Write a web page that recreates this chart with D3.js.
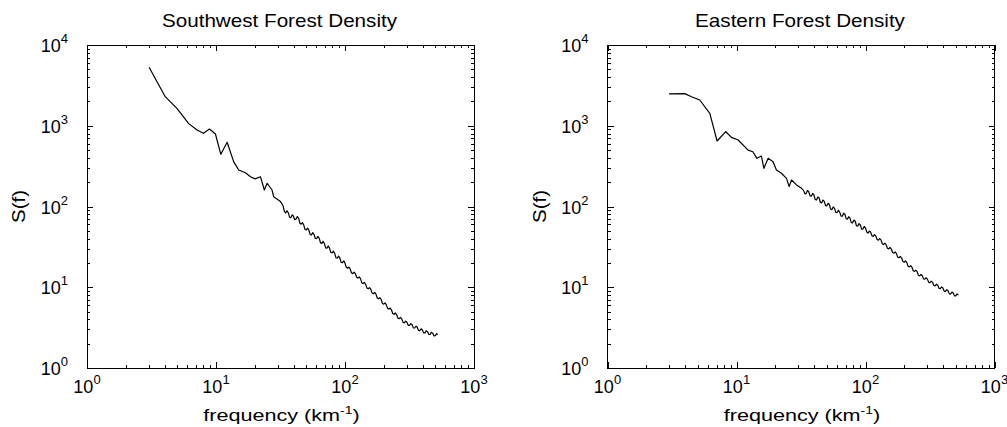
<!DOCTYPE html>
<html lang="en">
<head>
<meta charset="utf-8">
<title>Forest Density Spectra</title>
<script src="https://d3js.org/d3.v7.min.js"></script>
<style>
  body { margin: 0; background: #fff; }
  svg { display: block; font-family: "Liberation Sans", Arial, Helvetica, sans-serif; }
</style>
</head>
<body>
<div id="chart"></div>
<script>
// ---- data ----
const panelTitles = ["Southwest Forest Density", "Eastern Forest Density"];
const xTickExps = [0, 1, 2, 3];
const yTickExps = [0, 1, 2, 3, 4];

// shared high-frequency grid of the noisy tails
const tailFreq = [33.1, 33.9, 34.7, 35.5, 36.3, 37.2, 38.0, 38.9, 39.8, 40.7, 41.7, 42.7, 43.7, 44.7,
  45.7, 46.8, 47.9, 49.0, 50.1, 51.3, 52.5, 53.7, 55.0, 56.2, 57.5, 58.9, 60.3, 61.7, 63.1, 64.6,
  66.1, 67.6, 69.2, 70.8, 72.4, 74.1, 75.9, 77.6, 79.4, 81.3, 83.2, 85.1, 87.1, 89.1, 91.2, 93.3,
  95.5, 97.7, 100, 102.3, 104.7, 107.2, 109.6, 112.2, 114.8, 117.5, 120.2, 123.0, 125.9, 128.8,
  131.8, 134.9, 138.0, 141.3, 144.5, 147.9, 151.4, 154.9, 158.5, 162.2, 166.0, 169.8, 173.8, 177.8,
  182.0, 186.2, 190.5, 195.0, 199.5, 204.2, 208.9, 213.8, 218.8, 223.9, 229.1, 234.4, 239.9, 245.5,
  251.2, 257.0, 263.0, 269.2, 275.4, 281.8, 288.4, 295.1, 302.0, 309.0, 316.2, 323.6, 331.1, 338.8,
  346.7, 354.8, 363.1, 371.5, 380.2, 389.0, 398.1, 407.4, 416.9, 426.6, 436.5, 446.7, 457.1, 467.7,
  478.6, 489.8, 501.2, 512.9, 524.8];

const swFreq = [3.03, 4.04, 4.98, 6.12, 7.12, 8.0, 8.9, 9.9, 10.9, 12.2, 13.7, 15.0, 16.9, 18.5, 20.1,
  22.1, 23.7, 24.9, 27.2, 28.0, 31.6].concat(tailFreq);
const swPower = [5300, 2290, 1640, 1070, 885, 806, 911, 790, 443, 624, 359, 283, 262, 234, 220,
  234, 160, 194, 160, 132, 115,
  102, 87.0, 83.2, 88.6, 84.1, 73.7, 72.4, 78.7, 76.2, 68.8,
  69.8, 74.9, 71.6, 62.0, 60.3, 63.1, 58.9, 51.9, 51.3, 54.1,
  50.8, 44.9, 44.5, 47.5, 45.2, 40.2, 40.1, 42.6, 40.4, 35.5,
  35.0, 37.0, 34.8, 30.8, 30.5, 32.3, 30.5, 26.9, 26.6, 28.0,
  26.3, 23.2, 22.9, 24.3, 23.0, 20.3, 20.2, 21.2, 19.9, 17.7,
  17.2, 17.8, 16.9, 15.1, 14.7, 15.4, 14.8, 13.3, 13.0, 13.4,
  12.8, 11.4, 11.1, 11.5, 10.9, 9.79, 9.57, 9.91, 9.46, 8.51,
  8.32, 8.62, 8.22, 7.37, 7.19, 7.42, 7.06, 6.33, 6.17, 6.39,
  6.10, 5.48, 5.36, 5.53, 5.26, 4.73, 4.62, 4.80, 4.59, 4.15,
  4.08, 4.24, 4.06, 3.68, 3.62, 3.81, 3.69, 3.38, 3.37, 3.54,
  3.43, 3.14, 3.13, 3.29, 3.19, 2.92, 2.91, 3.06, 2.96, 2.72,
  2.72, 2.89, 2.82, 2.60, 2.61, 2.77, 2.70, 2.50, 2.51, 2.66, 2.60];

const eaFreq = [3.0, 3.97, 4.48, 5.19, 6.21, 7.07, 8.26, 9.15, 10.3, 12.3, 13.4, 14.4, 15.6, 16.3,
  17.6, 19.2, 20.4, 22.3, 24.4, 25.6, 26.7, 29.2, 31.9].concat(tailFreq);
const eaPower = [2475, 2500, 2290, 2084, 1426, 647, 844, 719, 666, 500, 477, 395, 422, 297,
  395, 359, 283, 258, 223, 176, 213, 185, 168,
  158.5, 143.4, 145.6, 157.6, 152.1, 134.8, 134.0, 145.1, 140.0, 122.5,
  120.2, 131.0, 127.4, 112.1, 110.7, 120.0, 115.9, 102.6, 101.9, 109.7,
  105.4, 92.8, 91.6, 98.7, 94.8, 84.4, 84.3, 89.7, 85.1, 75.9,
  75.9, 82.6, 80.2, 70.6, 69.8, 74.7, 71.3, 63.2, 62.8, 68.0,
  65.6, 57.8, 57.1, 61.5, 59.0, 52.5, 52.5, 56.5, 54.2, 48.4,
  46.9, 49.5, 48.2, 43.5, 42.7, 44.8, 43.3, 39.1, 38.3, 40.1,
  38.6, 34.6, 33.8, 35.2, 33.7, 30.4, 29.9, 31.1, 29.7, 26.9,
  26.4, 27.4, 26.1, 23.6, 23.2, 24.1, 23.0, 20.8, 20.4, 21.2,
  20.2, 18.2, 17.9, 18.5, 17.7, 16.0, 15.7, 16.3, 15.6, 14.1,
  13.8, 14.4, 13.9, 12.7, 12.6, 13.1, 12.6, 11.5, 11.4, 11.9,
  11.5, 10.5, 10.4, 10.9, 10.6, 9.70, 9.64, 10.1, 9.79, 8.95,
  8.89, 9.34, 9.04, 8.28, 8.24, 8.71, 8.49, 7.82, 7.83, 8.27, 8.04];

// ---- layout ----
const width = 1007;
const height = 427;
const plotTop = 45;
const plotBottom = 368;
const plotW = 387;
const majorLen = 6;
const minorLen = 3;

const panels = [
  { title: panelTitles[0], freq: swFreq, power: swPower, left: 87 },
  { title: panelTitles[1], freq: eaFreq, power: eaPower, left: 607.5 }
];

const svg = d3.select("#chart")
  .append("svg")
  .attr("width", width)
  .attr("height", height);

const isMajor = v => Math.abs(Math.log10(v) - Math.round(Math.log10(v))) < 1e-9;

function drawPanel(p) {
  const x = d3.scaleLog().domain([1, 1000]).range([p.left, p.left + plotW]);
  const y = d3.scaleLog().domain([1, 10000]).range([plotBottom, plotTop]);
  const g = svg.append("g");

  const xMajor = x.ticks().filter(isMajor);
  const xMinor = x.ticks().filter(v => !isMajor(v));
  const yMajor = y.ticks().filter(isMajor);
  const yMinor = y.ticks().filter(v => !isMajor(v));

  // inward ticks on all four sides
  const sides = [
    [() => d3.axisBottom(x), `translate(0,${plotBottom})`, xMajor, xMinor],
    [() => d3.axisTop(x), `translate(0,${plotTop})`, xMajor, xMinor],
    [() => d3.axisLeft(y), `translate(${p.left},0)`, yMajor, yMinor],
    [() => d3.axisRight(y), `translate(${p.left + plotW},0)`, yMajor, yMinor]
  ];
  sides.forEach(([make, tr, majors, minors]) => {
    [[majors, majorLen], [minors, minorLen]].forEach(([vals, len]) => {
      g.append("g")
        .attr("transform", tr)
        .style("color", "#000")
        .attr("shape-rendering", "crispEdges")
        .call(make().tickValues(vals).tickSize(-len).tickFormat(""))
        .call(a => a.select(".domain").remove())
        .call(a => a.selectAll("text").remove());
    });
  });

  // frame
  g.append("rect")
    .attr("x", x(1))
    .attr("y", y(10000))
    .attr("width", x(1000) - x(1))
    .attr("height", y(1) - y(10000))
    .attr("fill", "none")
    .attr("stroke", "#000")
    .attr("stroke-width", 1)
    .attr("shape-rendering", "crispEdges");

  // spectrum
  const line = d3.line()
    .x(d => x(d[0]))
    .y(d => y(d[1]));
  g.append("path")
    .datum(d3.zip(p.freq, p.power))
    .attr("d", line)
    .attr("fill", "none")
    .attr("stroke", "#000")
    .attr("stroke-width", 1.2)
    .attr("stroke-linejoin", "round");

  // x tick labels
  g.selectAll(".xlab")
    .data(xTickExps)
    .join("text")
    .attr("class", "xlab")
    .attr("x", e => x(Math.pow(10, e)))
    .attr("y", plotBottom + 25)
    .attr("text-anchor", "middle")
    .attr("font-size", 18)
    .each(function (e) {
      const t = d3.select(this);
      t.append("tspan").text("10");
      t.append("tspan").attr("font-size", 13).attr("dy", -9).text(e);
    });

  // y tick labels
  g.selectAll(".ylab")
    .data(yTickExps)
    .join("text")
    .attr("class", "ylab")
    .attr("x", p.left - 19)
    .attr("y", e => y(Math.pow(10, e)) + 7)
    .attr("text-anchor", "end")
    .attr("font-size", 18)
    .each(function (e) {
      const t = d3.select(this);
      t.append("tspan").text("10");
      t.append("tspan").attr("font-size", 13).attr("dy", -9).text(e);
    });

  const cx = p.left + plotW / 2;

  // title
  g.append("text")
    .attr("transform", `translate(${cx - 1},27) scale(1.18,1)`)
    .attr("text-anchor", "middle")
    .attr("font-size", 17.5)
    .text(p.title);

  // x axis title
  const xt = g.append("text")
    .attr("transform", `translate(${cx + 1},421) scale(1.27,1)`)
    .attr("text-anchor", "middle")
    .attr("font-size", 17);
  xt.append("tspan").text("frequency (km");
  xt.append("tspan").attr("font-size", 11).attr("dy", -7).text("-1");
  xt.append("tspan").attr("dy", 7).text(")");

  // y axis title
  g.append("text")
    .attr("transform", `translate(${p.left - 62},${(plotTop + plotBottom) / 2}) rotate(-90) scale(1.14,1)`)
    .attr("text-anchor", "middle")
    .attr("font-size", 18)
    .text("S(f)");
}

panels.forEach(drawPanel);
</script>
</body>
</html>
